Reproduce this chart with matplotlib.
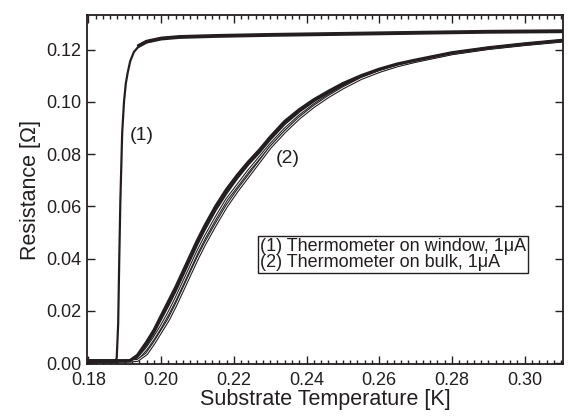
# -*- coding: utf-8 -*-

import matplotlib.pyplot as plt
from matplotlib.ticker import MultipleLocator

plt.rcParams['font.family'] = ['Liberation Sans', 'DejaVu Sans']

# (1) thermometer on window
T1 = [0.180, 0.1875, 0.1878, 0.1882, 0.1885, 0.1888, 0.1893, 0.1898, 0.1903,
      0.1908, 0.1915, 0.1925, 0.194, 0.196, 0.200, 0.205, 0.215, 0.230, 0.250,
      0.270, 0.290, 0.310]
R1 = [0.0008, 0.0008, 0.002, 0.015, 0.040, 0.062, 0.088, 0.100, 0.107,
      0.111, 0.1155, 0.119, 0.1215, 0.123, 0.1242, 0.1248, 0.1252, 0.1256, 0.126,
      0.1264, 0.1268, 0.127]

# (2) thermometer on bulk, several sweeps
T2 = [0.180, 0.190, 0.1915, 0.1935, 0.196, 0.198, 0.200, 0.202, 0.204, 0.206,
      0.208, 0.210, 0.212, 0.215, 0.218, 0.221, 0.224, 0.227, 0.230, 0.234,
      0.238, 0.242, 0.246, 0.250, 0.255, 0.260, 0.265, 0.270, 0.280, 0.290,
      0.300, 0.310]
R2a = [0.0008, 0.0008, 0.001, 0.003, 0.008, 0.0125, 0.018, 0.0235, 0.029, 0.035,
       0.041, 0.047, 0.0525, 0.060, 0.0665, 0.072, 0.077, 0.0815, 0.0865, 0.0925,
       0.097, 0.1008, 0.104, 0.107, 0.110, 0.1125, 0.1145, 0.116, 0.1188, 0.1207,
       0.1222, 0.1235]
R2b = [0.0008, 0.0008, 0.0009, 0.0025, 0.007, 0.0115, 0.0168, 0.022, 0.0275, 0.0335,
       0.0395, 0.0455, 0.051, 0.0585, 0.065, 0.0708, 0.076, 0.0805, 0.0855, 0.0915,
       0.0962, 0.1002, 0.1035, 0.1065, 0.1097, 0.1122, 0.1143, 0.1158, 0.1187, 0.1206,
       0.1221, 0.1234]
R2c = [0.0008, 0.0008, 0.0008, 0.0015, 0.0055, 0.0095, 0.014, 0.019, 0.0245, 0.0305,
       0.0365, 0.0425, 0.048, 0.0555, 0.0625, 0.068, 0.0735, 0.0785, 0.0835, 0.0895,
       0.0945, 0.0988, 0.1025, 0.1057, 0.1092, 0.1118, 0.114, 0.1156, 0.1185, 0.1205,
       0.122, 0.1233]
R2d = [0.0008, 0.0008, 0.0008, 0.001, 0.0035, 0.0075, 0.012, 0.0165, 0.022, 0.028,
       0.034, 0.040, 0.0455, 0.053, 0.060, 0.066, 0.0715, 0.077, 0.0825, 0.0885,
       0.0938, 0.0982, 0.1020, 0.1053, 0.1089, 0.1116, 0.1138, 0.1155, 0.1184, 0.1204,
       0.1219, 0.1232]

fig = plt.figure(figsize=(5.68, 4.18), dpi=100)
ax = fig.add_axes([0.153, 0.129, 0.838, 0.835])

ink = '#231f20'

# bulk sweeps: two hollow ones, two solid ones
for R in (R2c, R2d):
    ax.plot(T2, R, color=ink, lw=2.2)
    ax.plot(T2, R, color='white', lw=0.6)
ax.plot(T2, R2b, color=ink, lw=1.6)
ax.plot(T2, R2a, color=ink, lw=2.2)

# window thermometer
ax.plot(T1, R1, color=ink, lw=1.6)
ax.plot(T1[12:], R1[12:], color=ink, lw=2.8)
ax.plot(T1[:2], R1[:2], color=ink, lw=2.5)

ax.text(0.1948, 0.0872, '(1)', fontsize=14, ha='center', va='center', color=ink)
ax.text(0.2347, 0.0784, '(2)', fontsize=14, ha='center', va='center', color=ink)

ax.text(0.2272, 0.0415, '(1) Thermometer on window, 1\u03bcA\n(2) Thermometer on bulk, 1\u03bcA',
        fontsize=13, ha='left', va='center', color=ink, linespacing=0.92,
        bbox=dict(boxstyle='square,pad=0.12', fc='white', ec=ink, lw=1))

ax.set_xlim(0.1796, 0.3105)
ax.set_ylim(-0.0004, 0.1332)
ax.xaxis.set_major_locator(MultipleLocator(0.02))
ax.xaxis.set_minor_locator(MultipleLocator(0.002))
ax.yaxis.set_major_locator(MultipleLocator(0.02))
ax.xaxis.set_major_formatter(plt.FormatStrFormatter('%.2f'))
ax.yaxis.set_major_formatter(plt.FormatStrFormatter('%.2f'))

ax.tick_params(which='both', direction='in', top=True, right=True,
               labelsize=13, colors=ink, width=1)
ax.tick_params(which='major', length=6)
ax.tick_params(which='minor', length=3)
ax.tick_params(axis='x', which='major', pad=6)
ax.tick_params(axis='y', which='major', pad=4)
for s in ax.spines.values():
    s.set_linewidth(1.3)
    s.set_color(ink)

ax.set_xlabel('Substrate Temperature [K]', fontsize=15.5, color=ink, labelpad=0)
ax.set_ylabel('Resistance [\u03a9]', fontsize=15.5, color=ink, labelpad=4)

plt.savefig('out.png', dpi=100)
